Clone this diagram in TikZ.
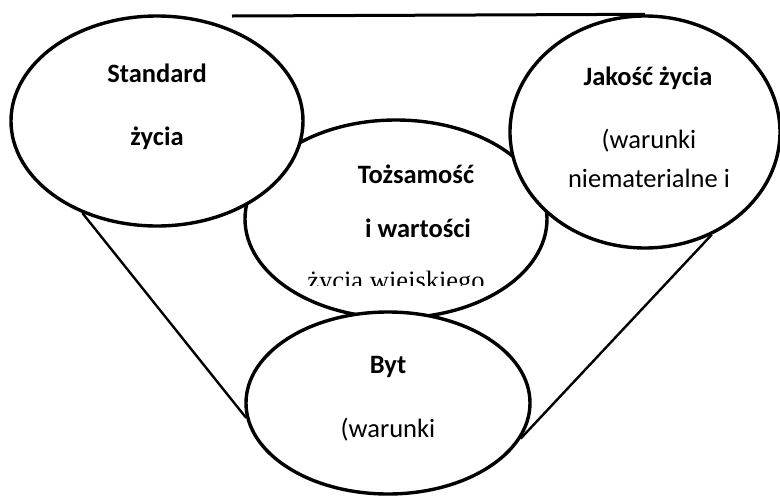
\documentclass[tikz,border=0pt]{standalone}
\usepackage{fontspec}
\setmainfont{Carlito}
\newfontfamily\serifface{Liberation Serif}
\usetikzlibrary{shapes.geometric}
\tikzset{
  oval/.style={ellipse, draw=black, line width=3.4pt, fill=white, inner sep=0pt},
  conn/.style={line width=2.4pt, draw=black},
  boldtxt/.style={anchor=base, font=\fontsize{26.5}{30}\selectfont\bfseries, inner sep=0pt},
  regtxt/.style={anchor=base, font=\fontsize{26.5}{30}\selectfont, inner sep=0pt},
  sertxt/.style={anchor=base, font=\serifface\fontsize{26.5}{30}\selectfont, inner sep=0pt}
}
\begin{document}
\begin{tikzpicture}[x=1pt, y=-1pt]
\useasboundingbox (0,0) rectangle (780,496);
\fill[white] (0,0) rectangle (780,496);
% centre ellipse (drawn first, lies underneath)
\node[oval, minimum width=302pt, minimum height=198pt] (toz) at (396,219) {};
\node[boldtxt] (t1) at (416,183) {Tożsamość};
\node[boldtxt] (t2) at (418,237) {i wartości};
\begin{scope}
  \clip (280,250) rectangle (520,285);
  \node[sertxt] (t3) at (396,289) {życia wiejskiego};
\end{scope}
% other ellipses
\node[oval, minimum width=292pt, minimum height=210pt] (std) at (157,121) {};
\node[oval, minimum width=270pt, minimum height=232pt] (jak) at (645,132) {};
\node[oval, minimum width=284pt, minimum height=182pt] (byt) at (388,403) {};
% connectors
\coordinate (topL) at (232,16);
\draw[conn, line width=3pt] (topL) -- (jak.north);
\draw[conn] (std.231) -- (byt.186);
\draw[conn] (byt.345) -- (jak.303);
% texts
\node[boldtxt] (s1) at (157,82) {Standard};
\node[boldtxt] (s2) at (157,145) {życia};
\node[boldtxt] (j1) at (648,85) {Jakość życia};
\node[regtxt] (j2) at (649,148) {(warunki};
\node[regtxt] (j3) at (649,187) {niematerialne i};
\node[boldtxt] (b1) at (388,373) {Byt};
\node[regtxt] (b2) at (388,437) {(warunki};
\end{tikzpicture}
\end{document}
